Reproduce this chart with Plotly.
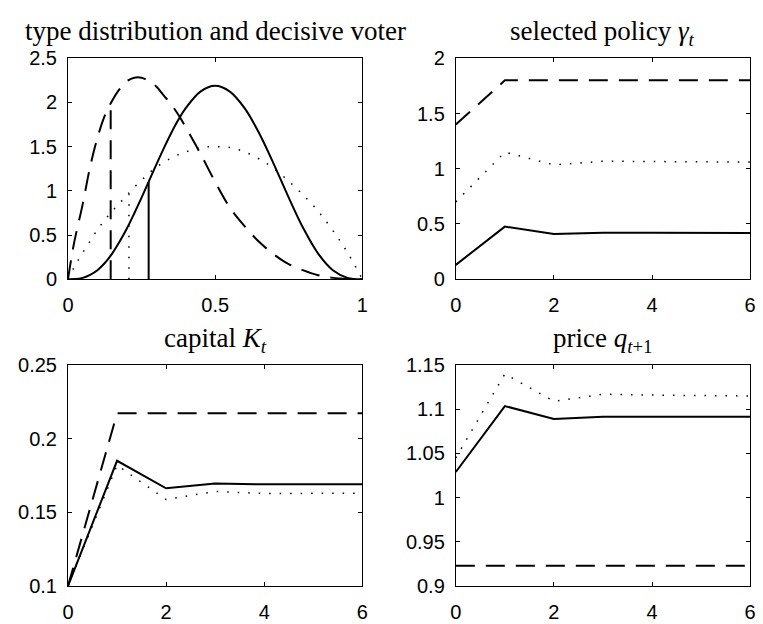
import plotly.graph_objects as go

# ---- type distributions on [0, 1] ----
type_grid = [0.0, 0.02, 0.05, 0.075, 0.1, 0.125, 0.15, 0.175, 0.2, 0.225, 0.25,
             0.275, 0.3, 0.325, 0.35, 0.375, 0.4, 0.45, 0.5, 0.55, 0.6, 0.65,
             0.7, 0.75, 0.8, 0.85, 0.9, 0.95, 1.0]
density_solid = [0.0, 0.001, 0.015, 0.05, 0.102, 0.183, 0.29, 0.423, 0.573, 0.744, 0.923,
                 1.11, 1.297, 1.478, 1.649, 1.803, 1.935, 2.123, 2.188, 2.123, 1.935, 1.649,
                 1.297, 0.923, 0.573, 0.29, 0.102, 0.015, 0.0]
density_dashed = [0.0, 0.40, 0.85, 1.27, 1.60, 1.85, 2.02, 2.15, 2.24, 2.28, 2.28,
                  2.24, 2.18, 2.08, 1.98, 1.86, 1.72, 1.42, 1.10, 0.81, 0.60, 0.42,
                  0.28, 0.17, 0.10, 0.045, 0.015, 0.003, 0.0]
density_dotted = [0.0, 0.13, 0.30, 0.43, 0.56, 0.67, 0.77, 0.86, 0.95, 1.04, 1.12,
                  1.20, 1.27, 1.32, 1.37, 1.41, 1.44, 1.49, 1.50, 1.49, 1.44, 1.36,
                  1.25, 1.11, 0.95, 0.77, 0.55, 0.30, 0.0]

# decisive voter position and density height, per economy
voter_x = {"solid": 0.274, "dashed": 0.145, "dotted": 0.207}
voter_h = {"solid": 1.10, "dashed": 1.99, "dotted": 0.96}

# ---- time paths, t = 0..6 ----
periods = [0, 1, 2, 3, 4, 5, 6]
gamma_solid = [0.13, 0.476, 0.41, 0.42, 0.42, 0.42, 0.418]
gamma_dashed = [1.40, 1.80, 1.80, 1.80, 1.80, 1.80, 1.80]
gamma_dotted = [0.70, 1.15, 1.035, 1.068, 1.065, 1.062, 1.06]

capital_solid = [0.10, 0.185, 0.1663, 0.1696, 0.169, 0.169, 0.169]
capital_dashed = [0.10, 0.2172, 0.2172, 0.2172, 0.2172, 0.2172, 0.2172]
capital_dotted = [0.10, 0.182, 0.1587, 0.1642, 0.1628, 0.163, 0.163]

price_solid = [1.029, 1.1036, 1.089, 1.0915, 1.0915, 1.0915, 1.0915]
price_dashed = [0.923, 0.923, 0.923, 0.923, 0.923, 0.923, 0.923]
price_dotted = [1.045, 1.140, 1.109, 1.117, 1.116, 1.1155, 1.115]

titles = ["type distribution and decisive voter",
          "selected policy <i>γ</i><sub><i>t</i></sub>",
          "capital <i>K</i><sub><i>t</i></sub>",
          "price <i>q</i><sub><i>t</i>+1</sub>"]

W, H = 763, 624
# plot boxes in pixels: (left, right, top, bottom)
boxes = [(63, 362, 49, 278), (457, 756, 49, 278),
         (63, 362, 367, 596), (457, 756, 367, 596)]

STYLES = {
    "solid": dict(color="black", width=2, dash="solid"),
    "dashed": dict(color="black", width=2, dash="19px,11px"),
    "dotted": dict(color="black", width=1.5, dash="1.5px,9px"),
}

fig = go.Figure()


def add(x, y, style, idx, shape="linear"):
    fig.add_trace(go.Scatter(
        x=x, y=y, mode="lines", line=dict(**STYLES[style], shape=shape),
        xaxis="x" if idx == 1 else f"x{idx}",
        yaxis="y" if idx == 1 else f"y{idx}",
        showlegend=False, hoverinfo="skip"))


# panel 1: densities with decisive voter markers
add(type_grid, density_dotted, "dotted", 1, "spline")
add(type_grid, density_dashed, "dashed", 1, "spline")
add(type_grid, density_solid, "solid", 1, "spline")
for k in ["dotted", "dashed", "solid"]:
    add([voter_x[k], voter_x[k]], [0, voter_h[k]], k, 1)

# panel 2: policy
add(periods, gamma_dotted, "dotted", 2)
add(periods, gamma_dashed, "dashed", 2)
add(periods, gamma_solid, "solid", 2)

# panel 3: capital
add(periods, capital_dotted, "dotted", 3)
add(periods, capital_dashed, "dashed", 3)
add(periods, capital_solid, "solid", 3)

# panel 4: price
add(periods, price_dotted, "dotted", 4)
add(periods, price_dashed, "dashed", 4)
add(periods, price_solid, "solid", 4)

tick_font = dict(family="Liberation Sans, Arial, sans-serif", size=20, color="black")
axis_common = dict(showline=True, linecolor="black", linewidth=1, mirror="ticks",
                   ticks="inside", ticklen=4, tickwidth=1, tickcolor="black",
                   showgrid=False, zeroline=False, tickfont=tick_font, fixedrange=True)

x_ranges = [[0, 1], [0, 6], [0, 6], [0, 6]]
x_ticks = [[0, 0.5, 1], [0, 2, 4, 6], [0, 2, 4, 6], [0, 2, 4, 6]]
x_labels = [["0", "0.5", "1"], ["0", "2", "4", "6"], ["0", "2", "4", "6"], ["0", "2", "4", "6"]]
y_ranges = [[0, 2.5], [0, 2], [0.1, 0.25], [0.9, 1.15]]
y_ticks = [[0, 0.5, 1, 1.5, 2, 2.5], [0, 0.5, 1, 1.5, 2],
           [0.1, 0.15, 0.2, 0.25], [0.9, 0.95, 1, 1.05, 1.1, 1.15]]
y_labels = [["0", "0.5", "1", "1.5", "2", "2.5"], ["0", "0.5", "1", "1.5", "2"],
            ["0.1", "0.15", "0.2", "0.25"], ["0.9", "0.95", "1", "1.05", "1.1", "1.15"]]

layout = dict(width=W, height=H, margin=dict(l=0, r=0, t=0, b=0),
              paper_bgcolor="white", plot_bgcolor="white", showlegend=False)
annotations = []
for i, (l, r, t, b) in enumerate(boxes):
    n = i + 1
    xs = "" if n == 1 else str(n)
    layout[f"xaxis{xs}"] = dict(axis_common, domain=[l / W, r / W], range=x_ranges[i],
                                tickvals=x_ticks[i], ticktext=x_labels[i],
                                ticklabelstandoff=8,
                                anchor="y" if n == 1 else f"y{n}")
    layout[f"yaxis{xs}"] = dict(axis_common, domain=[1 - b / H, 1 - t / H], range=y_ranges[i],
                                tickvals=y_ticks[i], ticktext=y_labels[i],
                                ticklabelstandoff=6,
                                anchor="x" if n == 1 else f"x{n}")
    annotations.append(dict(text=titles[i], x=(l + r) / 2 / W, y=1 - t / H,
                            xref="paper", yref="paper", xanchor="center", yanchor="top",
                            yshift=44, showarrow=False,
                            font=dict(family="Liberation Serif, Times New Roman, serif",
                                      size=27, color="black")))
layout["annotations"] = annotations
fig.update_layout(**layout)

fig.write_html("out.html")
